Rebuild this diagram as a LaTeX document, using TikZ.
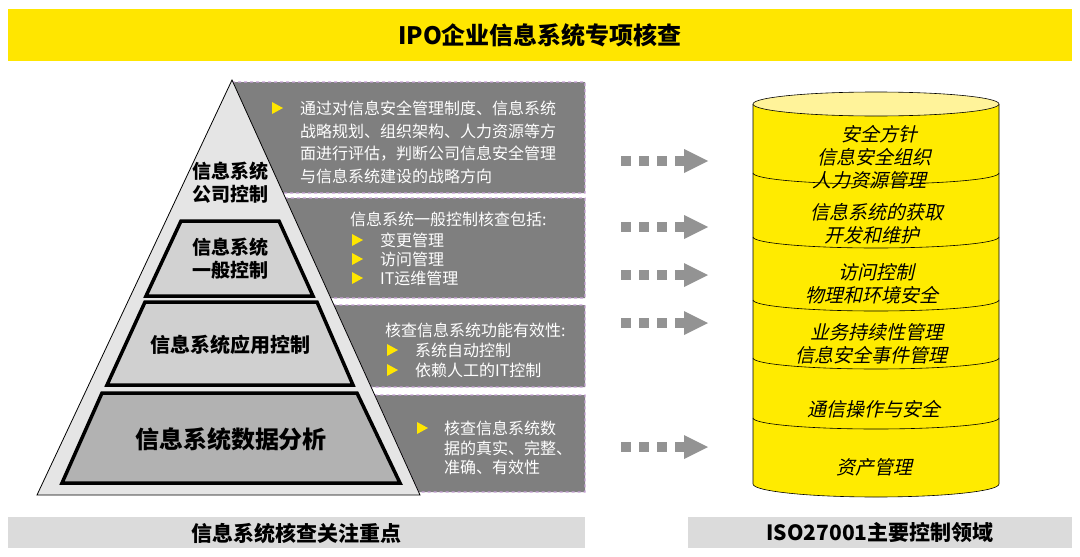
\documentclass[tikz,border=0pt]{standalone}
\usepackage{fontspec}
\setmainfont{Noto Sans CJK SC}
\usetikzlibrary{calc}
\definecolor{ttl}{HTML}{FFE600}
\definecolor{cyl}{HTML}{FFEB00}
\definecolor{cyltop}{HTML}{FFF39A}
\definecolor{dgrey}{HTML}{7F7F7F}
\definecolor{dash}{HTML}{C8A2D8}
\begin{document}
\begin{tikzpicture}[x=1pt,y=-1pt,
  btxt/.style={text=white,font=\fontsize{16}{16}\selectfont,anchor=west,inner sep=0},
  bul/.style={fill=ttl,draw=none},
  rbox/.style={fill=dgrey,draw=dash,dashed,line width=1.2pt},
  layer/.style={draw=black,line width=3.5pt,line join=miter},
  plab/.style={font=\bfseries\fontsize{19}{23}\selectfont,align=center},
  ctxt/.style={font=\fontsize{19}{23}\selectfont,align=center,xslant=0.22,transform shape},
  sq/.style={fill=gray!85,draw=none}]
\useasboundingbox (0,0) rectangle (1080,557);
\fill[white] (0,0) rectangle (1080,557);
% title
\fill[ttl] (8,9) rectangle (1072,61);
\node[font=\bfseries\fontsize{24}{24}\selectfont] (title) at (540,35) {IPO企业信息系统专项核查};
% right grey boxes
\newcommand{\rx}[1]{232+0.455*(#1-82)}
\draw[rbox] (232,82) -- (585,82) -- (585,193) -- ({\rx{193}},193) -- cycle;
\draw[rbox] ({\rx{198}},198) -- (585,198) -- (585,298) -- ({\rx{298}},298) -- cycle;
\draw[rbox] ({\rx{305}},305) -- (585,305) -- (585,387) -- ({\rx{387}},387) -- cycle;
\draw[rbox] ({\rx{395}},395) -- (585,395) -- (585,492) -- ({\rx{492}},492) -- cycle;
% pyramid
\draw[fill=gray!20,line width=0.8pt] (232,80) -- (420,495) -- (37,495) -- cycle;
\draw[layer,fill=gray!35] (181,221) -- (279,221) -- (313,296) -- (146,296) -- cycle;
\draw[layer,fill=gray!37] (145,302) -- (317,302) -- (353,385) -- (107,385) -- cycle;
\draw[layer,fill=gray!60] (102,393) -- (357,393) -- (400,483) -- (62,483) -- cycle;
\node[plab] (p1) at (230,183) {信息系统\\公司控制};
\node[plab] (p2) at (230,259) {信息系统\\一般控制};
\node[plab,font=\bfseries\fontsize{20}{21}\selectfont] (p3) at (230,345) {信息系统应用控制};
\node[plab,font=\bfseries\fontsize{24}{24}\selectfont] (p4) at (231,439) {信息系统数据分析};
% box texts
\newcommand{\bult}[2]{\fill[bul] (#1-5,#2-6) -- (#1+6,#2) -- (#1-5,#2+6) -- cycle;}
\bult{277}{108}
\node[btxt] (t1a) at (300,108) {通过对信息安全管理制度、信息系统};
\node[btxt] (t1b) at (300,131) {战略规划、组织架构、人力资源等方};
\node[btxt] (t1c) at (300,154) {面进行评估，判断公司信息安全管理};
\node[btxt] (t1d) at (300,176) {与信息系统建设的战略方向};
\node[btxt] (t2h) at (350,219) {信息系统一般控制核查包括:};
\bult{357}{240}\bult{357}{259}\bult{357}{278}
\node[btxt] (t2a) at (380,240) {变更管理};
\node[btxt] (t2b) at (380,259) {访问管理};
\node[btxt] (t2c) at (380,278) {IT运维管理};
\node[btxt] (t3h) at (385,330) {核查信息系统功能有效性:};
\bult{392}{350}\bult{392}{370}
\node[btxt] (t3a) at (415,350) {系统自动控制};
\node[btxt] (t3b) at (415,370) {依赖人工的IT控制};
\bult{422}{428}
\node[btxt] (t4a) at (444,428) {核查信息系统数};
\node[btxt] (t4b) at (444,448) {据的真实、完整、};
\node[btxt] (t4c) at (444,467) {准确、有效性};
% dotted arrows
\foreach \yy in {161,227,275,323,447}{
  \foreach \xx in {621,639,657,675}{\fill[sq] (\xx,\yy-5) rectangle (\xx+10,\yy+5);}
  \fill[sq] (684,\yy-12) -- (708,\yy) -- (684,\yy+12) -- cycle;
}
% cylinder
\fill[cyl] (753,104) -- (753,484) arc[start angle=180,end angle=0,x radius=123,y radius=13] -- (999,104) -- cycle;
\draw[line width=0.6pt] (753,104) -- (753,484) arc[start angle=180,end angle=0,x radius=123,y radius=13] -- (999,104);
\draw[fill=cyltop,line width=0.6pt] (876,104) ellipse[x radius=123,y radius=12];
\foreach \yy in {173,237,300,358,418}{
  \draw[line width=0.6pt] (753,\yy) arc[start angle=180,end angle=0,x radius=123,y radius=11];
}
\node[ctxt] (c1) at (876,157) {安全方针\\信息安全组织\\人力资源管理};
\node[ctxt] (c2) at (876,224) {信息系统的获取\\开发和维护};
\node[ctxt] (c3) at (876,284) {访问控制\\物理和环境安全};
\node[ctxt] (c4) at (876,344) {业务持续性管理\\信息安全事件管理};
\node[ctxt] (c5) at (876,409) {通信操作与安全};
\node[ctxt] (c6) at (876,467) {资产管理};
% bottom bars
\fill[gray!28] (8,517) rectangle (585,548);
\fill[gray!28] (688,517) rectangle (1072,548);
\node[font=\bfseries\fontsize{21}{21}\selectfont] (b1) at (296,533) {信息系统核查关注重点};
\node[font=\bfseries\fontsize{21}{21}\selectfont] (b2) at (880,533) {ISO27001主要控制领域};
\end{tikzpicture}
\end{document}
